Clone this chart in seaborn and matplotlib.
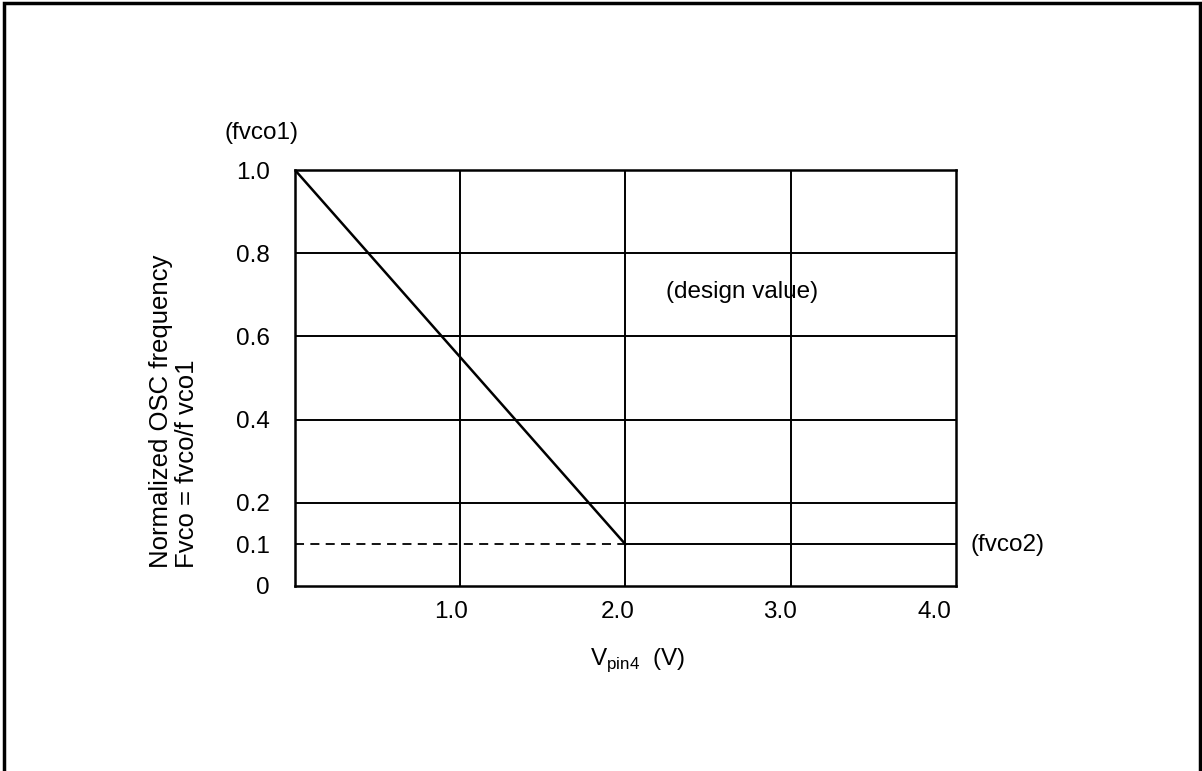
import matplotlib
matplotlib.use("Agg")
import matplotlib.pyplot as plt
import matplotlib.transforms as mtransforms
from matplotlib.patches import Rectangle
import seaborn as sns
import pandas as pd

# Data
v_pin4 = [0.0, 2.0]
fvco_norm = [1.0, 0.1]
fvco2_level = 0.1
x_max = 4.0
x_ticks = [1.0, 2.0, 3.0, 4.0]
x_tick_labels = ["1.0", "2.0", "3.0", "4.0"]
y_ticks = [0.0, 0.1, 0.2, 0.4, 0.6, 0.8, 1.0]
y_tick_labels = ["0", "0.1", "0.2", "0.4", "0.6", "0.8", "1.0"]
grid_y = [0.2, 0.4, 0.6, 0.8]
grid_x = [1.0, 2.0, 3.0]

sns.set_style("white")
plt.rcParams["font.family"] = ["Liberation Sans", "DejaVu Sans"]
plt.rcParams["mathtext.fontset"] = "custom"
plt.rcParams["mathtext.rm"] = "Liberation Sans"
plt.rcParams["text.color"] = "black"

FS = 17.5

fig = plt.figure(figsize=(12.02, 7.71), dpi=100)
ax = fig.add_axes([0.2454, 0.240, 0.5499, 0.5395])

df = pd.DataFrame({"v": v_pin4, "f": fvco_norm})

for gy in grid_y:
    ax.axhline(gy, color="black", lw=1.4, zorder=1)
for gx in grid_x:
    ax.axvline(gx, color="black", lw=1.4, zorder=1)

# fvco2 level: dashed up to the breakpoint, solid beyond
ax.plot([0.0, v_pin4[-1]], [fvco2_level, fvco2_level], color="black", lw=1.3,
        ls=(0, (5, 3.5)), zorder=2)
ax.plot([v_pin4[-1], x_max], [fvco2_level, fvco2_level], color="black", lw=1.4, zorder=2)

sns.lineplot(data=df, x="v", y="f", ax=ax, color="black", lw=1.8, zorder=3)

ax.set_xlim(0, x_max)
ax.set_ylim(0, 1.0)
ax.set_xticks(x_ticks)
ax.set_xticklabels(x_tick_labels)
ax.set_yticks(y_ticks)
ax.set_yticklabels(y_tick_labels)
ax.tick_params(axis="both", length=0, labelsize=FS, colors="black")
ax.tick_params(axis="x", pad=11)
ax.tick_params(axis="y", pad=18)
for sp in ax.spines.values():
    sp.set_color("black")
    sp.set_linewidth(1.8)

# nudge x tick labels slightly left as in the reference
shifts = [-9, -8, -11, -22]
for lbl, dx in zip(ax.get_xticklabels(), shifts):
    lbl.set_transform(lbl.get_transform() +
                      mtransforms.ScaledTranslation(dx / 100, 0, fig.dpi_scale_trans))

ax.set_xlabel("")
ax.set_ylabel("")

fig.text(638 / 1202, 1 - 660 / 771, r"V$_{\mathrm{pin4}}$  (V)", ha="center", va="center",
         fontsize=FS)
fig.text(174 / 1202, 1 - 411 / 771, "Normalized OSC frequency\nFvco = fvco/f vco1",
         ha="center", va="center", rotation=90, multialignment="left", fontsize=18.5,
         linespacing=1.1)
fig.text(261 / 1202, 1 - 133 / 771, "(fvco1)", ha="center", va="center", fontsize=FS)
fig.text(742 / 1202, 1 - 292 / 771, "(design value)", ha="center", va="center", fontsize=FS)
fig.text(971 / 1202, 1 - 545 / 771, "(fvco2)", ha="left", va="center", fontsize=FS)

fig.patches.append(Rectangle((4 / 1202, -0.05), 1196 / 1202, 1.05 - 3 / 771,
                             transform=fig.transFigure, fill=False, ec="black", lw=2.5))

fig.savefig("out.png", dpi=100, facecolor="white")
